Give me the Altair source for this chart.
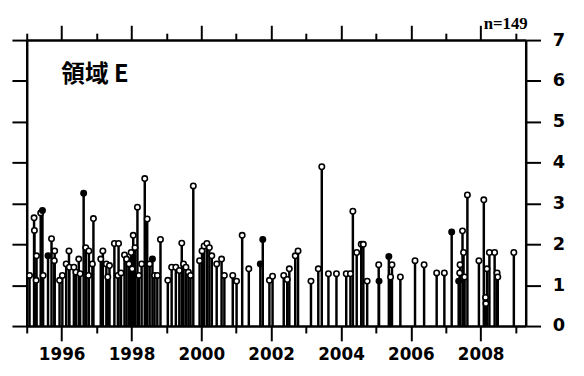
import altair as alt
import pandas as pd

# decimal year of each event, peak value, and whether its marker is solid
years = [1995.08, 1995.21, 1995.22, 1995.28, 1995.27, 1995.40, 1995.45, 1995.47, 1995.61, 1995.71,
         1995.80, 1995.79, 1995.94, 1996.02, 1996.13, 1996.21, 1996.22, 1996.35, 1996.41, 1996.49,
         1996.53, 1996.63, 1996.69, 1996.78, 1996.77, 1996.88, 1996.91, 1997.12, 1997.18, 1997.28,
         1997.32, 1997.37, 1997.51, 1997.63, 1997.61, 1997.70, 1997.80, 1997.86, 1997.93, 1997.99,
         1998.05, 1998.10, 1998.02, 1998.17, 1998.21, 1998.29, 1998.38, 1998.45, 1998.52, 1998.60,
         1998.66, 1998.74, 1998.83, 1999.04, 1999.15, 1999.27, 1999.37, 1999.44, 1999.49, 1999.56,
         1999.63, 1999.77, 1999.69, 1999.95, 2000.02, 2000.08, 2000.16, 2000.23, 2000.30, 2000.44,
         2000.58, 2000.66, 2000.90, 2001.01, 2001.17, 2001.36, 2001.69, 2001.76, 2001.95, 2002.04,
         2002.36, 2002.46, 2002.52, 2002.69, 2002.77, 2003.14, 2003.35, 2003.45, 2003.64, 2003.87,
         2004.15, 2004.27, 2004.34, 2004.45, 2004.58, 2004.64, 2004.75, 2005.08, 2005.09, 2005.37,
         2005.46, 2005.42, 2005.70, 2006.12, 2006.38, 2006.74, 2006.96, 2007.17, 2007.40, 2007.41,
         2007.37, 2007.48, 2007.51, 2007.54, 2007.62, 2007.95, 2008.09, 2008.18, 2008.14, 2008.15,
         2008.25, 2008.40, 2008.47, 2008.49, 2008.95]
values = [1.24, 2.65, 2.34, 1.72, 1.12, 2.77, 2.83, 1.24, 1.72, 2.14,
          1.84, 1.60, 1.12, 1.24, 1.52, 1.84, 1.44, 1.44, 1.32, 1.64,
          1.28, 3.25, 1.92, 1.84, 1.24, 1.52, 2.63, 1.64, 1.84, 1.52,
          1.20, 1.48, 2.02, 2.02, 1.24, 1.30, 1.74, 1.64, 1.52, 1.80,
          2.22, 1.92, 1.40, 2.91, 1.24, 1.52, 3.61, 2.62, 1.52, 1.64,
          1.24, 1.24, 2.12, 1.12, 1.44, 1.44, 1.36, 2.03, 1.52, 1.44,
          1.32, 3.43, 1.24, 1.60, 1.84, 1.96, 2.02, 1.92, 1.72, 1.52,
          1.64, 1.24, 1.24, 1.10, 2.22, 1.40, 1.52, 2.12, 1.12, 1.22,
          1.24, 1.14, 1.40, 1.72, 1.84, 1.10, 1.40, 3.90, 1.28, 1.28,
          1.28, 1.28, 2.81, 1.80, 2.00, 2.00, 1.10, 1.50, 1.10, 1.70,
          1.50, 1.20, 1.20, 1.60, 1.50, 1.30, 1.30, 2.30, 1.30, 1.50,
          1.10, 2.33, 1.80, 1.20, 3.21, 1.60, 3.09, 1.40, 0.70, 0.55,
          1.80, 1.80, 1.30, 1.20, 1.80]
solid = [0, 0, 0, 0, 0, 0, 1, 0, 1, 0,
         0, 0, 0, 0, 0, 0, 0, 0, 0, 0,
         0, 1, 0, 0, 0, 0, 0, 0, 0, 0,
         0, 0, 0, 0, 0, 0, 0, 0, 0, 0,
         0, 0, 0, 0, 0, 0, 0, 0, 0, 1,
         0, 0, 0, 0, 0, 0, 0, 0, 0, 0,
         0, 0, 0, 0, 0, 0, 0, 0, 0, 0,
         0, 0, 0, 0, 0, 0, 1, 1, 0, 0,
         0, 0, 0, 0, 0, 0, 0, 0, 0, 0,
         0, 0, 0, 0, 0, 0, 0, 0, 1, 1,
         0, 0, 0, 0, 0, 0, 0, 1, 0, 0,
         1, 0, 0, 0, 0, 0, 0, 0, 0, 0,
         0, 0, 0, 0, 0]

region_label = "領域 E"
count_label = "n=149"
year_ticks = list(range(1995, 2010))
y_ticks = list(range(0, 8))

df = pd.DataFrame({"year": years, "value": values, "solid": solid})

x_dom = [1995, 2009.29]
y_dom = [0, 7]

even_tick = {"condition": {"test": "datum.value % 2 == 0", "value": 15}, "value": 7}
even_label = "datum.value % 2 == 0 ? datum.label : ''"

common_axis = dict(domainColor="black", domainWidth=2.5, tickColor="black", tickWidth=2,
                   grid=False)

stems = alt.Chart(df).transform_calculate(base="0").mark_rule(
    color="black", strokeWidth=2.5
).encode(
    x=alt.X("year:Q", scale=alt.Scale(domain=x_dom, nice=False, zero=False),
            axis=alt.Axis(orient="bottom", values=year_ticks, format="d", title=None,
                          tickSize=even_tick, labelExpr=even_label,
                          labelFont="DejaVu Sans", labelFontWeight="bold", labelFontSize=17,
                          labelColor="black", labelPadding=6, labelFlush=False,
                          labelOverlap=False, **common_axis)),
    y=alt.Y("value:Q", scale=alt.Scale(domain=y_dom, nice=False, zero=True),
            axis=alt.Axis(orient="right", values=y_ticks, title=None, tickSize=15,
                          labelFont="DejaVu Sans", labelFontWeight="bold", labelFontSize=18,
                          labelColor="black", labelPadding=12, labelFlush=False,
                          labelOverlap=False, **common_axis)),
    y2="base:Q",
)

points = alt.Chart(df).mark_point(
    shape="circle", size=30, filled=True, stroke="black", strokeWidth=1.6, opacity=1
).encode(
    x=alt.X("year:Q", scale=alt.Scale(domain=x_dom, nice=False, zero=False),
            axis=alt.Axis(orient="top", values=year_ticks, title=None, labels=False,
                          tickSize=even_tick, **common_axis)),
    y=alt.Y("value:Q", scale=alt.Scale(domain=y_dom, nice=False, zero=True),
            axis=alt.Axis(orient="left", values=y_ticks, title=None, labels=False,
                          tickSize=15, **common_axis)),
    fill=alt.condition(alt.datum.solid == 1, alt.value("black"), alt.value("white")),
)

title_txt = alt.Chart(pd.DataFrame({"t": [region_label]})).mark_text(
    font="Noto Sans CJK JP", fontWeight="bold", fontSize=24, align="left",
    baseline="middle", color="black"
).encode(x=alt.value(35), y=alt.value(35), text="t:N")

n_txt = alt.Chart(pd.DataFrame({"t": [count_label]})).mark_text(
    font="Liberation Serif", fontSize=17, fontWeight="bold", align="right",
    baseline="alphabetic", color="black"
).encode(x=alt.value(508), y=alt.value(-11), text="t:N")

chart = alt.layer(stems, points, title_txt, n_txt).resolve_scale(
    x="independent", y="independent"
).properties(
    width=506, height=290,
    autosize=alt.AutoSizeParams(type="none"),
    padding={"left": 19, "top": 30, "right": 51, "bottom": 40},
).configure_view(stroke=None)

chart.save("out.html", embed_options={"renderer": "svg", "actions": False})
